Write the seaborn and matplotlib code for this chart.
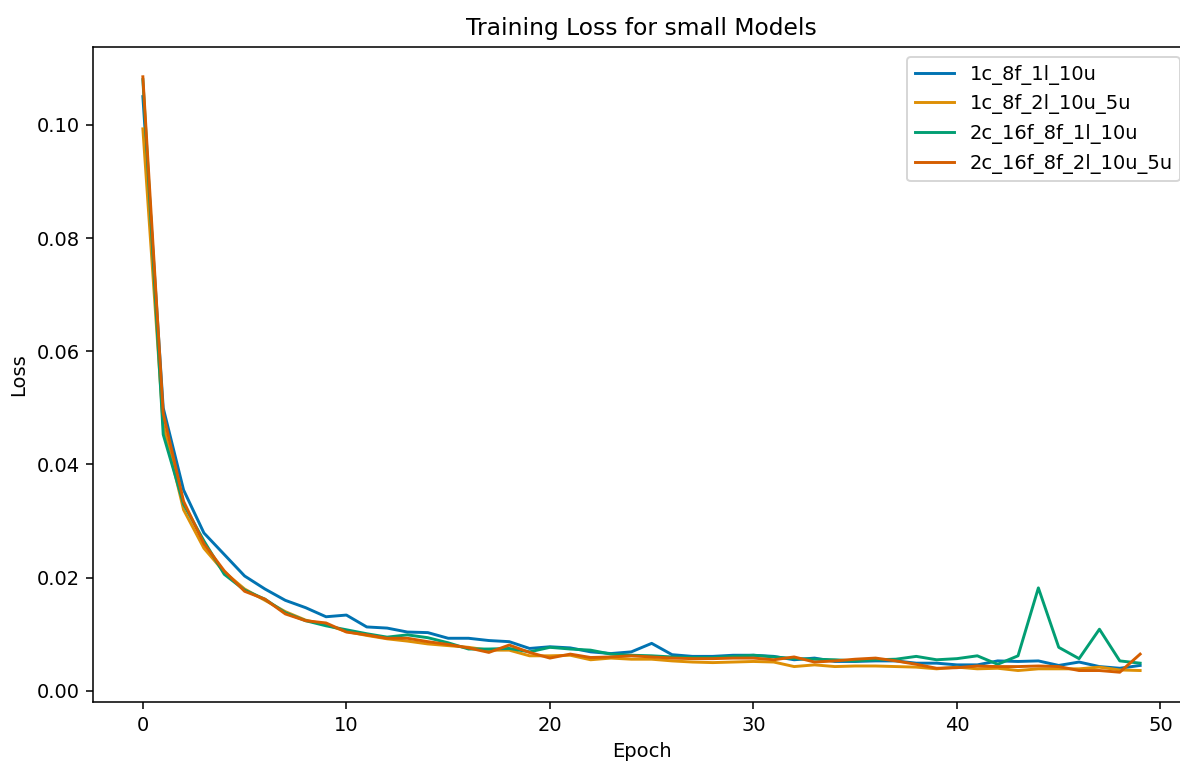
import matplotlib
matplotlib.use("Agg")
import matplotlib.pyplot as plt
import numpy as np
import pandas as pd
import seaborn as sns

epochs = list(range(50))

loss_1c_8f_1l_10u = [
    0.105, 0.050, 0.0355, 0.0279, 0.0241, 0.0203, 0.0180, 0.0160, 0.0147, 0.0131,
    0.0134, 0.0113, 0.0111, 0.0104, 0.0103, 0.0093, 0.0093, 0.0089, 0.0087, 0.0075,
    0.0078, 0.0076, 0.0069, 0.0066, 0.0069, 0.0084, 0.0064, 0.0061, 0.0061, 0.0063,
    0.0063, 0.0061, 0.0055, 0.0058, 0.0052, 0.0052, 0.0053, 0.0053, 0.0049, 0.0049,
    0.0046, 0.0046, 0.0053, 0.0052, 0.0053, 0.0045, 0.0051, 0.0043, 0.0040, 0.0045,
]
loss_1c_8f_2l_10u_5u = [
    0.0993, 0.047, 0.0320, 0.0252, 0.0210, 0.0180, 0.0160, 0.0140, 0.0125, 0.0117,
    0.0105, 0.0098, 0.0092, 0.0088, 0.0083, 0.0080, 0.0077, 0.0072, 0.0072, 0.0062,
    0.0062, 0.0063, 0.0055, 0.0058, 0.0056, 0.0056, 0.0053, 0.0051, 0.0050, 0.0051,
    0.0052, 0.0051, 0.0043, 0.0046, 0.0043, 0.0044, 0.0044, 0.0043, 0.0042, 0.0039,
    0.0042, 0.0039, 0.0040, 0.0036, 0.0039, 0.0039, 0.0039, 0.0042, 0.0037, 0.0036,
]
loss_2c_16f_8f_1l_10u = [
    0.108, 0.0453, 0.0330, 0.0265, 0.0206, 0.0178, 0.0162, 0.0138, 0.0124, 0.0115,
    0.0108, 0.0101, 0.0095, 0.0099, 0.0094, 0.0085, 0.0074, 0.0074, 0.0075, 0.0069,
    0.0077, 0.0074, 0.0072, 0.0065, 0.0063, 0.0062, 0.0060, 0.0059, 0.0059, 0.0061,
    0.0063, 0.0060, 0.0057, 0.0056, 0.0055, 0.0053, 0.0055, 0.0056, 0.0061, 0.0055,
    0.0057, 0.0062, 0.0047, 0.0062, 0.0182, 0.0077, 0.0057, 0.0109, 0.0053, 0.0049,
]
loss_2c_16f_8f_2l_10u_5u = [
    0.1085, 0.049, 0.0335, 0.0260, 0.0212, 0.0176, 0.0162, 0.0136, 0.0124, 0.0120,
    0.0104, 0.0099, 0.0093, 0.0093, 0.0087, 0.0082, 0.0076, 0.0068, 0.0081, 0.0068,
    0.0058, 0.0065, 0.0059, 0.0060, 0.0062, 0.0060, 0.0058, 0.0057, 0.0057, 0.0058,
    0.0058, 0.0055, 0.0060, 0.0051, 0.0053, 0.0056, 0.0058, 0.0053, 0.0047, 0.0040,
    0.0041, 0.0044, 0.0043, 0.0043, 0.0044, 0.0043, 0.0036, 0.0036, 0.0033, 0.0065,
]

model_names = ["1c_8f_1l_10u", "1c_8f_2l_10u_5u", "2c_16f_8f_1l_10u", "2c_16f_8f_2l_10u_5u"]
model_losses = [loss_1c_8f_1l_10u, loss_1c_8f_2l_10u_5u,
                loss_2c_16f_8f_1l_10u, loss_2c_16f_8f_2l_10u_5u]

palette = sns.color_palette("colorblind", len(model_names))

DPI = 140
fig = plt.figure(figsize=(1180 / DPI, 762 / DPI), dpi=DPI)
ax = fig.add_axes([93 / 1180, 60 / 762, 1097 / 1180, 655 / 762])

for name, losses, color in zip(model_names, model_losses, palette):
    df = pd.DataFrame({"Epoch": epochs, "Loss": losses})
    sns.lineplot(data=df, x="Epoch", y="Loss", ax=ax, color=color, label=name,
                 linewidth=1.5)

ax.set_title("Training Loss for small Models")
ax.set_xlabel("Epoch")
ax.set_ylabel("Loss")
ax.set_xticks([0, 10, 20, 30, 40, 50])
ax.set_yticks([0.0, 0.02, 0.04, 0.06, 0.08, 0.10])
ax.legend(loc="upper right")

fig.savefig("out.png", dpi=DPI)
